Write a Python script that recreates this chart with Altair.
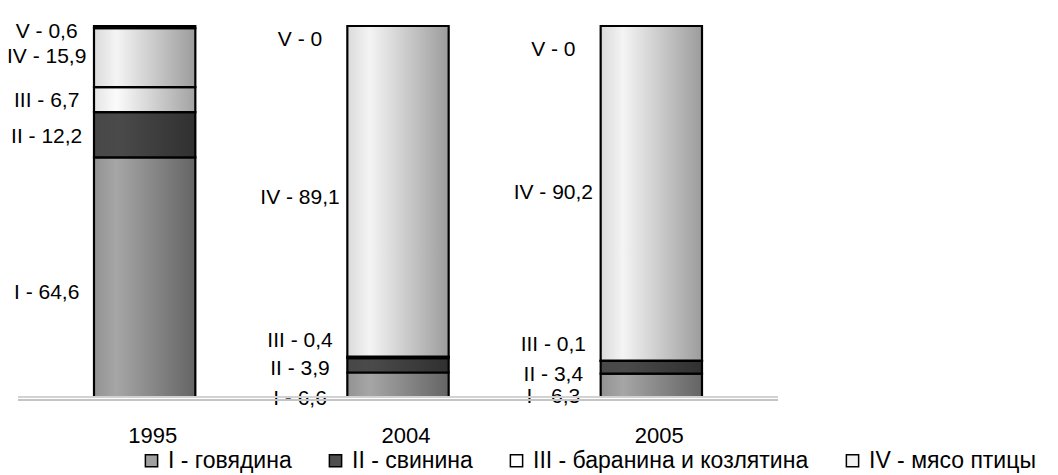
import altair as alt
import pandas as pd

years = ["1995", "2004", "2005"]
kinds = ["I", "II", "III", "IV", "V"]
legend_names = ["I - говядина", "II - свинина", "III - баранина и козлятина", "IV - мясо птицы"]
legend_colors = ["#a0a0a0", "#505050", "#ffffff", "#f2f2f2"]

share_1995 = [64.6, 12.2, 6.7, 15.9, 0.6]
share_2004 = [6.6, 3.9, 0.4, 89.1, 0.0]
share_2005 = [6.3, 3.4, 0.1, 90.2, 0.0]

# label anchor heights (in % units) as placed in the original
label_1995 = [28.0, 70.1, 79.8, 91.6, 98.4]
label_2004 = [-0.5, 7.5, 15.1, 53.6, 96.2]
label_2005 = [0.0, 5.9, 14.0, 55.0, 93.5]

shares = {"1995": share_1995, "2004": share_2004, "2005": share_2005}
labels = {"1995": label_1995, "2004": label_2004, "2005": label_2005}


def fmt(v):
    if v == 0:
        return "0"
    return str(v).replace(".", ",")


rows = []
for y in years:
    for i, k in enumerate(kinds):
        rows.append({
            "year": y,
            "kind": k,
            "order": i,
            "share": shares[y][i],
            "label": f"{k} - {fmt(shares[y][i])}",
            "label_y": labels[y][i],
        })
df = pd.DataFrame(rows)


def grad(stops):
    return alt.Gradient(
        gradient="linear",
        x1=0, x2=1, y1=0, y2=0,
        stops=[alt.GradientStop(color=c, offset=o) for o, c in stops],
    )


gradients = {
    "I": grad([(0, "#929292"), (0.22, "#a6a6a6"), (1, "#646464")]),
    "II": grad([(0, "#484848"), (0.25, "#4a4a4a"), (1, "#303030")]),
    "III": grad([(0, "#e4e4e4"), (0.22, "#fbfbfb"), (1, "#a2a2a2")]),
    "IV": grad([(0, "#dadada"), (0.22, "#f4f4f4"), (1, "#9c9c9c")]),
    "V": grad([(0, "#151515"), (1, "#000000")]),
}

FONT = "Liberation Sans"

xenc = alt.X(
    "year:N",
    sort=years,
    scale=alt.Scale(paddingInner=0.6, paddingOuter=0.3),
    axis=alt.Axis(
        title=None, labelAngle=0, ticks=False, tickSize=0, domain=False,
        labelFontSize=22, labelFont=FONT, labelColor="black",
        labelPadding=28, labelOffset=8, grid=False,
    ),
)
yscale = alt.Scale(domain=[0, 100], nice=False)

base = alt.Chart(df)
stacked = base.transform_stack(
    stack="share", groupby=["year"], as_=["y0", "y1"],
    sort=[alt.SortField("order", order="ascending")],
)

layers = []
for k in kinds:
    layers.append(
        stacked.transform_filter(alt.datum.kind == k)
        .mark_bar(fill=gradients[k], stroke="black", strokeWidth=2.2)
        .encode(
            x=xenc,
            y=alt.Y("y0:Q", scale=yscale, axis=None),
            y2="y1:Q",
        )
    )

text = base.mark_text(
    align="center", baseline="middle", dx=-98, fontSize=21, font=FONT, color="black"
).encode(
    x=xenc,
    y=alt.Y("label_y:Q", scale=yscale, axis=None),
    text="label:N",
)

rule1 = base.mark_rule(color="#d2d2d2", strokeWidth=1.2).encode(
    y=alt.Y(datum=0, scale=yscale, axis=None)
)
rule2 = base.mark_rule(color="#c4c4c4", strokeWidth=1.2, yOffset=3).encode(
    y=alt.Y(datum=0, scale=yscale, axis=None)
)

legend_layer = base.transform_filter("false").mark_square().encode(
    color=alt.Color(
        "kind:N",
        scale=alt.Scale(domain=legend_names, range=legend_colors),
        legend=alt.Legend(
            title=None, orient="none", legendX=122, legendY=423,
            direction="horizontal", symbolType="square", symbolSize=150,
            symbolStrokeColor="black", symbolStrokeWidth=1.5, symbolOpacity=1,
            labelFontSize=23, labelFont=FONT, labelColor="black",
            labelLimit=0, columnPadding=32, labelOffset=5,
        ),
    )
)

chart = alt.layer(*layers, text, rule1, rule2, legend_layer).properties(
    width=760,
    height=371,
    autosize=alt.AutoSizeParams(type="none"),
    padding={"left": 10, "top": 18, "right": 272, "bottom": 82},
).configure_view(stroke=None)

chart.save("out.html", embed_options={"renderer": "svg", "actions": False})
